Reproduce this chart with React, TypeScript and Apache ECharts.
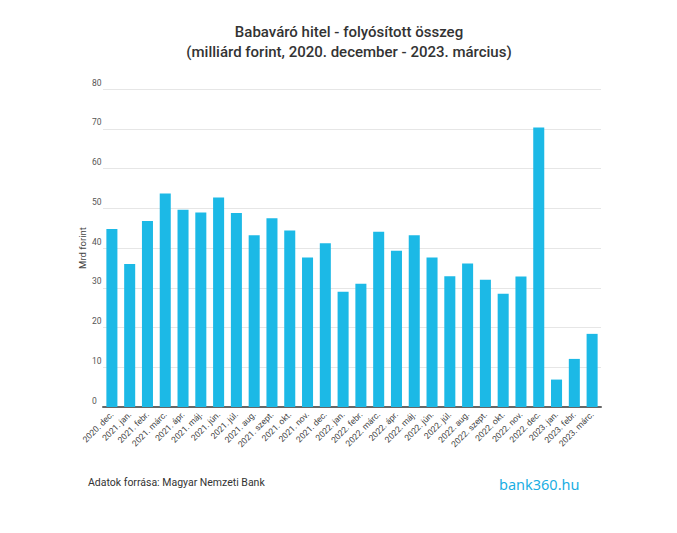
import React, { useEffect, useRef } from "react";
import * as echarts from "echarts";

const categories = [
  "2020. dec.", "2021. jan.", "2021. febr.", "2021. márc.", "2021. ápr.", "2021. máj.",
  "2021. jún.", "2021. júl.", "2021. aug.", "2021. szept.", "2021. okt.", "2021. nov.",
  "2021. dec.", "2022. jan.", "2022. febr.", "2022. márc.", "2022. ápr.", "2022. máj.",
  "2022. jún.", "2022. júl.", "2022. aug.", "2022. szept.", "2022. okt.", "2022. nov.",
  "2022. dec.", "2023. jan.", "2023. febr.", "2023. márc.",
];

const values = [
  44.8, 36.0, 46.8, 53.7, 49.6, 48.9,
  52.7, 48.8, 43.2, 47.5, 44.4, 37.6,
  41.2, 29.0, 31.0, 44.1, 39.3, 43.2,
  37.6, 32.9, 36.1, 32.0, 28.5, 32.8,
  70.3, 6.9, 12.1, 18.4,
];

const titleLines = [
  "Babaváró hitel - folyósított összeg",
  "(milliárd forint, 2020. december - 2023. március)",
];
const yAxisName = "Mrd forint";
const sourceText = "Adatok forrása: Magyar Nemzeti Bank";
const logoText = "bank360.hu";

export default function App() {
  const ref = useRef<HTMLDivElement>(null);
  useEffect(() => {
    if (!ref.current) return;
    const chart = echarts.init(ref.current, undefined, { renderer: "svg" });
    chart.setOption({
      animation: false,
      backgroundColor: "#ffffff",
      textStyle: { fontFamily: "Roboto" },
      title: {
        text: titleLines.join("\n"),
        left: 344,
        textAlign: "center",
        top: 17,
        textStyle: {
          fontFamily: "Roboto",
          fontWeight: 500,
          fontSize: 15,
          lineHeight: 20,
          color: "#333333",
        },
      },
      grid: { left: 103, right: 76, top: 89, bottom: 126 },
      xAxis: {
        type: "category",
        data: categories,
        axisTick: { show: false },
        axisLine: { show: true, lineStyle: { color: "#666666", width: 2 } },
        axisLabel: {
          rotate: 45,
          interval: 0,
          fontSize: 8.5,
          color: "#444444",
          margin: 6,
          fontFamily: "Roboto",
        },
      },
      yAxis: {
        type: "value",
        min: 0,
        max: 80,
        interval: 10,
        name: yAxisName,
        nameLocation: "middle",
        nameGap: 16,
        nameMoveOverlap: false,
        nameTextStyle: { fontSize: 9.5, color: "#444444", fontFamily: "Roboto" },
        axisLine: { show: false },
        axisTick: { show: false },
        axisLabel: {
          align: "left",
          verticalAlign: "bottom",
          margin: 11,
          padding: [0, 0, 2, 0],
          fontSize: 8.5,
          color: "#555555",
          fontFamily: "Roboto",
        },
        splitLine: { lineStyle: { color: "#e6e6e6", width: 1 } },
      },
      series: [
        {
          type: "bar",
          data: values,
          barWidth: "62%",
          itemStyle: { color: "#1cb9e6" },
        },
      ],
      graphic: [
        {
          type: "text",
          left: 88,
          top: 477,
          style: {
            text: sourceText,
            fontSize: 10.5,
            fill: "#333333",
            fontFamily: "Roboto",
          },
        },
        {
          type: "text",
          left: 499,
          top: 476,
          style: {
            text: logoText,
            fontSize: 14.5,
            fill: "#1aaee3",
            fontFamily: "Noto Sans",
          },
        },
      ],
    });
    return () => chart.dispose();
  }, []);
  return (
    <div
      ref={ref}
      style={{ position: "fixed", left: 0, top: 0, width: 677, height: 533 }}
    />
  );
}
